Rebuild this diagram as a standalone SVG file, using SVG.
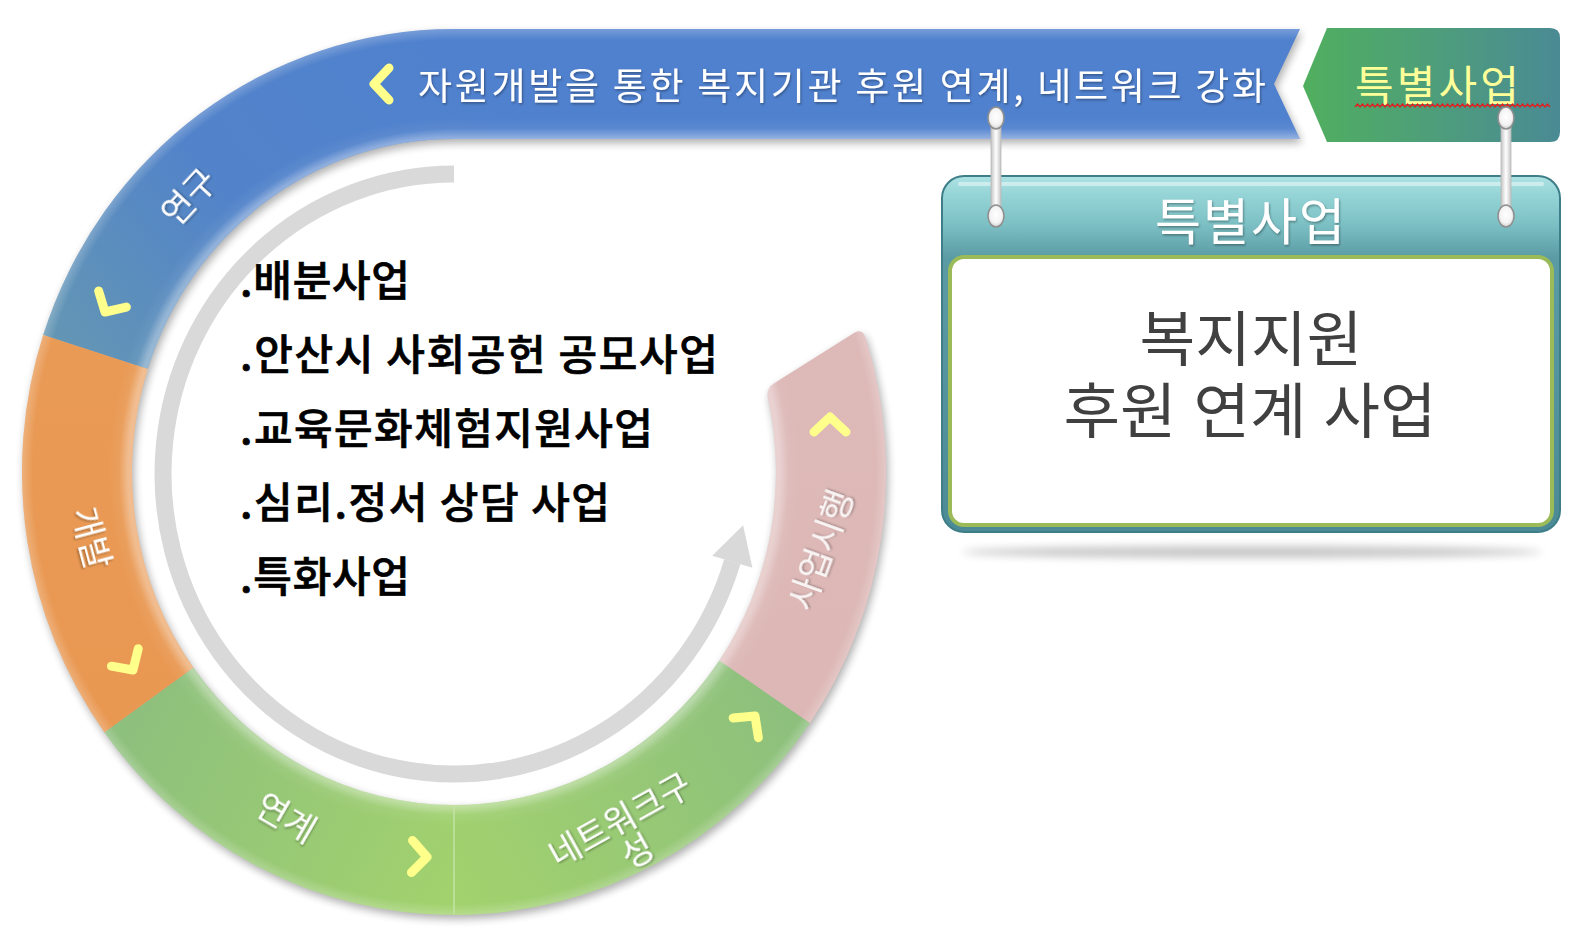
<svg xmlns="http://www.w3.org/2000/svg" width="1588" height="936" viewBox="0 0 1588 936">
<style>
text { font-family: 'Noto Sans CJK KR', 'Noto Sans', sans-serif; }
.lbl { font-size: 34px; fill: #ffffff; text-anchor: middle; }
.chev { fill: none; stroke: #FFFF8C; stroke-width: 9; stroke-linecap: round; stroke-linejoin: round; }
.list { font-size: 42px; fill: #000000; font-weight: 500; stroke: #000000; stroke-width: 0.7; }
.rod { fill: url(#rodGrad); stroke: #b8b8b8; stroke-width: 0.8; }
.eye { fill: url(#eyeGrad); stroke: #8f8f8f; stroke-width: 1.5; }
.body { font-family: 'Liberation Sans', 'Noto Sans CJK KR', sans-serif; font-size: 60px; fill: #404040; text-anchor: middle; }
</style>
<defs>
  <path id="pBlue" d="M 43.14 335.10 A 432 443 0 0 1 454 29 L 1300 29 L 1274 84 L 1300 139 L 454 139 A 322 333 0 0 0 147.76 369.10 Z"/>
  <path id="pBlueArc" d="M 43.14 335.10 A 432 443 0 0 1 454 29 L 454 139 A 322 333 0 0 0 147.76 369.10 Z"/>
  <path id="pBanner" d="M 454 29 L 1300 29 L 1274 84 L 1300 139 L 454 139 Z"/>
  <path id="pOrange" d="M 104.50 732.39 A 432 443 0 0 1 43.14 335.10 L 147.76 369.10 A 322 333 0 0 0 193.50 667.73 Z"/>
  <path id="pGreen1" d="M 454 915 A 432 443 0 0 1 104.50 732.39 L 193.50 667.73 A 322 333 0 0 0 454 805 Z"/>
  <path id="pGreen2" d="M 810.02 722.92 A 432 443 0 0 1 454 915 L 454 805 A 322 333 0 0 0 719.37 660.61 Z"/>
  <path id="pPink" d="M 810.02 722.92 A 432 443 0 0 0 866.0 338.8 Q 862.46 327.77 854.0 333.1 L 774.2 383.3 Q 765.74 388.62 768.0 398.2 A 322 333 0 0 1 719.37 660.61 Z"/>
  <path id="chev" d="M -15 -16 L 0 0 L -15 16"/>

  <linearGradient id="gBlue" gradientUnits="userSpaceOnUse" x1="454" y1="29" x2="60" y2="345">
    <stop offset="0" stop-color="#5081CE"/>
    <stop offset="0.55" stop-color="#5283CA"/>
    <stop offset="1" stop-color="#6396B4"/>
  </linearGradient>
  <linearGradient id="gOrange" gradientUnits="userSpaceOnUse" x1="0" y1="340" x2="0" y2="730">
    <stop offset="0" stop-color="#E99A55"/>
    <stop offset="1" stop-color="#E99852"/>
  </linearGradient>
  <linearGradient id="gGreen1" gradientUnits="userSpaceOnUse" x1="110" y1="720" x2="454" y2="900">
    <stop offset="0" stop-color="#8DBF7E"/>
    <stop offset="1" stop-color="#A2D26D"/>
  </linearGradient>
  <linearGradient id="gGreen2" gradientUnits="userSpaceOnUse" x1="454" y1="900" x2="800" y2="690">
    <stop offset="0" stop-color="#A2D26D"/>
    <stop offset="1" stop-color="#8CBF7E"/>
  </linearGradient>
  <linearGradient id="gPink" gradientUnits="userSpaceOnUse" x1="0" y1="330" x2="0" y2="720">
    <stop offset="0" stop-color="#DDB9B8"/>
    <stop offset="1" stop-color="#DCB7B5"/>
  </linearGradient>
  <radialGradient id="bevel" gradientUnits="userSpaceOnUse" cx="454" cy="472" r="443" gradientTransform="translate(454 472) scale(0.975 1) translate(-454 -472)">
    <stop offset="0" stop-color="#fff" stop-opacity="0.4"/>
    <stop offset="0.755" stop-color="#fff" stop-opacity="0.35"/>
    <stop offset="0.775" stop-color="#fff" stop-opacity="0.06"/>
    <stop offset="0.8" stop-color="#fff" stop-opacity="0"/>
    <stop offset="0.975" stop-color="#fff" stop-opacity="0"/>
    <stop offset="1" stop-color="#fff" stop-opacity="0.22"/>
  </radialGradient>
  <linearGradient id="bannerShade" gradientUnits="userSpaceOnUse" x1="0" y1="29" x2="0" y2="139">
    <stop offset="0" stop-color="#fff" stop-opacity="0.22"/>
    <stop offset="0.1" stop-color="#fff" stop-opacity="0"/>
    <stop offset="0.805" stop-color="#fff" stop-opacity="0"/>
    <stop offset="0.906" stop-color="#fff" stop-opacity="0.06"/>
    <stop offset="0.987" stop-color="#fff" stop-opacity="0.35"/>
    <stop offset="1" stop-color="#fff" stop-opacity="0.4"/>
  </linearGradient>
  <linearGradient id="gTag" x1="0" y1="0" x2="1" y2="0">
    <stop offset="0" stop-color="#50AF5E"/>
    <stop offset="0.5" stop-color="#4E9E7A"/>
    <stop offset="1" stop-color="#4A8A94"/>
  </linearGradient>
  <linearGradient id="gPanel" gradientUnits="userSpaceOnUse" x1="0" y1="176" x2="0" y2="532">
    <stop offset="0" stop-color="#AEE2E4"/>
    <stop offset="0.05" stop-color="#96D5D7"/>
    <stop offset="0.13" stop-color="#7EC2C6"/>
    <stop offset="0.23" stop-color="#5B9BA4"/>
    <stop offset="1" stop-color="#4C8B96"/>
  </linearGradient>
  <linearGradient id="rodGrad" x1="0" y1="0" x2="1" y2="0">
    <stop offset="0" stop-color="#C4C4C4"/>
    <stop offset="0.5" stop-color="#FFFFFF"/>
    <stop offset="1" stop-color="#C4C4C4"/>
  </linearGradient>
  <radialGradient id="eyeGrad" cx="0.5" cy="0.45" r="0.6">
    <stop offset="0" stop-color="#FFFFFF"/>
    <stop offset="0.6" stop-color="#F4F4F4"/>
    <stop offset="1" stop-color="#C8C8C8"/>
  </radialGradient>
  <filter id="shadowOnly" x="-10%" y="-10%" width="125%" height="125%">
    <feGaussianBlur in="SourceAlpha" stdDeviation="4"/>
    <feOffset dx="2" dy="4" result="b"/>
    <feComponentTransfer><feFuncA type="linear" slope="0.32"/></feComponentTransfer>
  </filter>
  <filter id="tshadow" x="-10%" y="-20%" width="120%" height="150%">
    <feDropShadow dx="1" dy="1.5" stdDeviation="1" flood-color="#000" flood-opacity="0.35"/>
  </filter>
  <filter id="blur4" x="-20%" y="-200%" width="140%" height="500%">
    <feGaussianBlur stdDeviation="4"/>
  </filter>
</defs>

<rect width="1588" height="936" fill="#ffffff"/>

<!-- ring shadow -->
<g id="ring-shadow" filter="url(#shadowOnly)" fill="#000">
  <use href="#pBlue"/><use href="#pOrange"/><use href="#pGreen1"/><use href="#pGreen2"/><use href="#pPink"/>
</g>

<!-- connectors: circular flow arrow -->
<g id="connectors">
  <g id="flow-arrow">
    <path d="M 454 174 A 291 300 0 1 0 732.3 561.7" fill="none" stroke="#D9D9D9" stroke-width="17"/>
    <polygon points="743.1,525.3 752.4,567.7 712.2,555.7" fill="#D9D9D9"/>
  </g>
</g>

<!-- ring segments -->
<g id="seg-research">
  <use href="#pBlue" fill="url(#gBlue)"/>
  <use href="#pBlueArc" fill="url(#bevel)"/>
  <use href="#pBanner" fill="url(#bannerShade)"/>
  <text class="lbl" transform="translate(189 197) rotate(-47)" y="12" filter="url(#tshadow)">연구</text>
  <use href="#chev" class="chev" transform="translate(105 312) rotate(120)"/>
</g>

<g id="banner-text">
  <use href="#chev" class="chev" transform="translate(374 84) rotate(180)"/>
  <text x="418" y="100" font-size="37" fill="#ffffff" textLength="848" lengthAdjust="spacing" filter="url(#tshadow)">자원개발을 통한 복지기관 후원 연계, 네트워크 강화</text>
</g>

<g id="seg-develop">
  <use href="#pOrange" fill="url(#gOrange)"/>
  <use href="#pOrange" fill="url(#bevel)"/>
  <text class="lbl" transform="translate(91 538) rotate(75)" y="12" filter="url(#tshadow)">개발</text>
  <use href="#chev" class="chev" transform="translate(133 670) rotate(57)"/>
</g>

<g id="seg-link">
  <use href="#pGreen1" fill="url(#gGreen1)"/>
  <use href="#pGreen1" fill="url(#bevel)"/>
  <text class="lbl" transform="translate(286 818) rotate(30)" y="12" filter="url(#tshadow)">연계</text>
  <use href="#chev" class="chev" transform="translate(427 857) rotate(2)"/>
</g>

<g id="seg-network">
  <use href="#pGreen2" fill="url(#gGreen2)"/>
  <use href="#pGreen2" fill="url(#bevel)"/>
  <line x1="454" y1="806" x2="454" y2="914" stroke="#C6E6AA" stroke-width="1.5" opacity="0.9"/>
  <text class="lbl" transform="translate(620 820) rotate(-29)" filter="url(#tshadow)"><tspan x="0" y="12">네트워크구</tspan><tspan x="0" y="48">성</tspan></text>
  <use href="#chev" class="chev" transform="translate(755 716) rotate(-52)"/>
</g>

<g id="seg-execute">
  <use href="#pPink" fill="url(#gPink)"/>
  <use href="#pPink" fill="url(#bevel)"/>
  <text class="lbl" transform="translate(821 550) rotate(-70)" y="12" fill-opacity="0.88" filter="url(#tshadow)">사업시행</text>
  <use href="#chev" class="chev" transform="translate(830 417) rotate(-90)"/>
</g>

<!-- list inside ring -->
<g id="program-list">
  <text class="list" x="240" y="296" textLength="170" lengthAdjust="spacing">.배분사업</text>
  <text class="list" x="240" y="370" textLength="478" lengthAdjust="spacing">.안산시 사회공헌 공모사업</text>
  <text class="list" x="240" y="444" textLength="413" lengthAdjust="spacing">.교육문화체험지원사업</text>
  <text class="list" x="240" y="518" textLength="370" lengthAdjust="spacing">.심리.정서 상담 사업</text>
  <text class="list" x="240" y="592" textLength="170" lengthAdjust="spacing">.특화사업</text>
</g>

<!-- top-right tag -->
<g id="tag-special">
  <path d="M 1303 86 L 1327 28 L 1550 28 Q 1560 28 1560 38 L 1560 132 Q 1560 142 1550 142 L 1327 142 Z" fill="url(#gTag)"/>
  <text x="1437" y="101" font-size="42" fill="#FFFF99" text-anchor="middle" textLength="164" lengthAdjust="spacing">특별사업</text>
  <path d="M1355 107 l2.5 -3 l2.5 3 l2.5 -3 l2.5 3 l2.5 -3 l2.5 3 l2.5 -3 l2.5 3 l2.5 -3 l2.5 3 l2.5 -3 l2.5 3 l2.5 -3 l2.5 3 l2.5 -3 l2.5 3 l2.5 -3 l2.5 3 l2.5 -3 l2.5 3 l2.5 -3 l2.5 3 l2.5 -3 l2.5 3 l2.5 -3 l2.5 3 l2.5 -3 l2.5 3 l2.5 -3 l2.5 3 l2.5 -3 l2.5 3 l2.5 -3 l2.5 3 l2.5 -3 l2.5 3 l2.5 -3 l2.5 3 l2.5 -3 l2.5 3 l2.5 -3 l2.5 3 l2.5 -3 l2.5 3 l2.5 -3 l2.5 3 l2.5 -3 l2.5 3 l2.5 -3 l2.5 3 l2.5 -3 l2.5 3 l2.5 -3 l2.5 3 l2.5 -3 l2.5 3 l2.5 -3 l2.5 3 l2.5 -3 l2.5 3 l2.5 -3 l2.5 3 l2.5 -3 l2.5 3 l2.5 -3 l2.5 3 l2.5 -3 l2.5 3 l2.5 -3 l2.5 3 l2.5 -3 l2.5 3 l2.5 -3 l2.5 3 l2.5 -3 l2.5 3 l2.5 -3 l2.5 3" fill="none" stroke="#E02020" stroke-width="1.3"/>
</g>

<!-- hanging panel -->
<g id="panel-special">
  <ellipse cx="1252" cy="552" rx="290" ry="6" fill="#000" opacity="0.22" filter="url(#blur4)"/>
  <rect x="942" y="176" width="618" height="356" rx="22" fill="url(#gPanel)" stroke="#3E7E88" stroke-width="2"/>
  <rect x="958" y="182" width="586" height="4" rx="2" fill="#ffffff" opacity="0.45"/>
  <text x="1250" y="240" font-size="50" fill="#ffffff" text-anchor="middle" textLength="190" lengthAdjust="spacing" filter="url(#tshadow)">특별사업</text>
  <rect x="950" y="257" width="602" height="268" rx="14" fill="#ffffff" stroke="#9BBB59" stroke-width="4"/>
  <text class="body" x="1251" y="361" textLength="223" lengthAdjust="spacingAndGlyphs">복지지원</text>
  <text class="body" x="1250" y="433" textLength="373" lengthAdjust="spacingAndGlyphs">후원 연계 사업</text>
</g>

<!-- connectors: hanging rods -->
<g id="hangers">
  <rect class="rod" x="991" y="118" width="10" height="98"/>
  <rect class="rod" x="1501" y="118" width="10" height="98"/>
  <ellipse class="eye" cx="996" cy="118" rx="8" ry="11"/>
  <ellipse class="eye" cx="996" cy="216" rx="8" ry="11"/>
  <ellipse class="eye" cx="1506" cy="118" rx="8" ry="11"/>
  <ellipse class="eye" cx="1506" cy="216" rx="8" ry="11"/>
</g>
</svg>
